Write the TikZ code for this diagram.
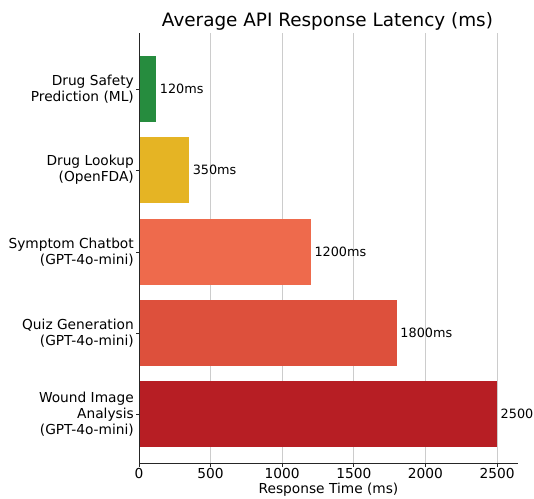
\documentclass[tikz,border=0pt]{standalone}
\usepackage{fontspec}
\setmainfont{DejaVu Sans}
\definecolor{safetygreen}{RGB}{38,140,62}
\definecolor{lookupyellow}{RGB}{229,180,36}
\definecolor{chatsalmon}{RGB}{238,106,76}
\definecolor{quizred}{RGB}{221,80,60}
\definecolor{woundred}{RGB}{183,30,36}
\newcommand{\mspx}{0.1432}
\begin{document}
\begin{tikzpicture}[x=1pt,y=-1pt,
    gridline/.style={draw=black!20, line width=0.8pt},
    spine/.style={draw=black!85, line width=1pt},
    ticktext/.style={font=\fontsize{13.75}{16.3}\selectfont},
    catlabel/.style={ticktext, anchor=east, align=right, inner sep=0pt},
    vallabel/.style={font=\fontsize{12.8}{15}\selectfont, anchor=west, inner sep=0pt}]
\useasboundingbox (0,0) rectangle (534,498);
% grid and x ticks
\foreach \v in {500,1000,...,2500}
    \draw[gridline] ({139+\v*\mspx},33) -- ({139+\v*\mspx},463);
\foreach \v in {0,500,...,2500} {
    \draw[spine] ({139+\v*\mspx},463) -- ({139+\v*\mspx},466.5);
    \node[ticktext] (tick\v) at ({139+\v*\mspx},473.5) {\v};
}
% bars
\foreach \val/\yc/\col/\txt/\lab [count=\i] in {
    120/89/safetygreen/120ms/{Drug Safety\\Prediction (ML)},
    350/170/lookupyellow/350ms/{Drug Lookup\\(OpenFDA)},
    1200/252/chatsalmon/1200ms/{Symptom Chatbot\\(GPT-4o-mini)},
    1800/333/quizred/1800ms/{Quiz Generation\\(GPT-4o-mini)},
    2500/414/woundred/2500/{Wound Image\\Analysis\\(GPT-4o-mini)}} {
    \fill[\col] (139,\yc-33) rectangle ({139+\val*\mspx},\yc+33);
    \node[vallabel] (val\i) at ({139+\val*\mspx+3.5},\yc) {\txt};
    \draw[spine] (139,\yc) -- (135.5,\yc);
    \node[catlabel] (cat\i) at (134,\yc) {\lab};
}
% axes
\draw[spine] (139,33) -- (139,463) -- (518,463);
\node[font=\fontsize{18.4}{22}\selectfont] (title) at (327.5,21) {Average API Response Latency (ms)};
\node[ticktext] (xlabel) at (328.5,490) {Response Time (ms)};
\end{tikzpicture}
\end{document}
